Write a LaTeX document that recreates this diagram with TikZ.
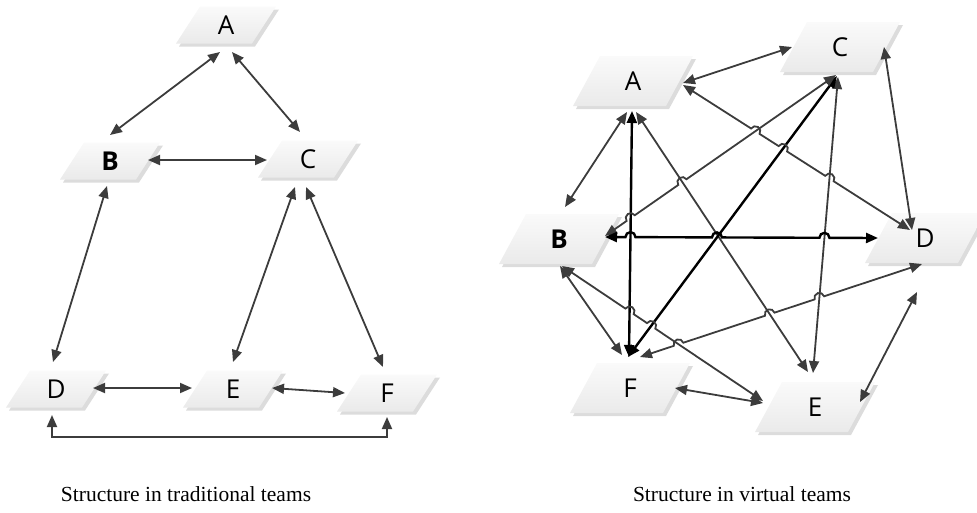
\documentclass[tikz,border=0pt]{standalone}
\usepackage{fontspec}
\setmainfont{Liberation Serif}
\newfontfamily\labelfont{Open Sans}
\usetikzlibrary{calc,intersections,backgrounds,arrows.meta}

\definecolor{linkgray}{HTML}{3C3C3C}
\definecolor{boxtop}{HTML}{FAFAFA}
\definecolor{boxbottom}{HTML}{EAEAEA}
\definecolor{boxshadow}{HTML}{DCDCDC}

% radius of the little bridges where a line jumps over another
\newcommand\hopr{5pt}
% one bridge: straight run up to the crossing #1, then a half circle
% (#2 is the start of the line; \n1 is its direction, set by let)
\newcommand\hop[2]{-- ($(#1)!\hopr!(#2)$) arc[start angle=\n1+180, delta angle=-180, radius=\hopr]}

% slanted panel behind a label node: node, width, height, slant
\newcommand\panel[4]{%
  \begin{scope}[on background layer, shift={(#1)}]
    \fill[boxshadow] ({-#2/2+3},{#3/2+3}) -- ({#2/2-#4+3},{#3/2+3})
      -- ({#2/2+3},{-#3/2+3}) -- ({-#2/2+#4+3},{-#3/2+3}) -- cycle;
    \shade[top color=boxtop, bottom color=boxbottom]
      ({-#2/2},{#3/2}) -- ({#2/2-#4},{#3/2})
      -- ({#2/2},{-#3/2}) -- ({-#2/2+#4},{-#3/2}) -- cycle;
  \end{scope}}

\tikzset{
  lbl/.style={font=\labelfont\fontsize{26}{26}\selectfont, inner sep=0pt},
  boldlbl/.style={lbl, font=\labelfont\bfseries\fontsize{26}{26}\selectfont},
  tip/.tip={Triangle[length=12pt,width=10pt]},
  link/.style={draw=linkgray, line width=1.8pt, tip-tip},
  strong/.style={draw=black, line width=2.4pt, tip-tip},
  caption/.style={font=\fontsize{21.5}{24}\selectfont, inner sep=0pt},
}

\begin{document}
\begin{tikzpicture}[x=1pt, y=-1pt]
\clip (0,0) rectangle (977,512);

% ---------------- hierarchy of a traditional team ----------------
\node[lbl]     (A) at (226,25)  {A};
\node[boldlbl] (B) at (110,161) {B};
\node[lbl]     (C) at (308,159) {C};
\node[lbl]     (D) at (56,389)  {D};
\node[lbl]     (E) at (233,389) {E};
\node[lbl]     (F) at (387,393) {F};
\foreach \n in {A,B,C,D,E,F} {\panel{\n}{100}{37}{24}}

\coordinate (A-b1) at ($(A)+(-6,27)$);
\coordinate (A-b2) at ($(A)+(6,27)$);
\coordinate (B-t)  at ($(B)+(0,-26)$);
\coordinate (B-r)  at ($(B)+(38,-1)$);
\coordinate (B-b)  at ($(B)+(-3,25)$);
\coordinate (C-t)  at ($(C)+(-8,-27)$);
\coordinate (C-l)  at ($(C)+(-41,1)$);
\coordinate (C-b1) at ($(C)+(-13,28)$);
\coordinate (C-b2) at ($(C)+(-2,28)$);
\coordinate (D-t)  at ($(D)+(-3,-27)$);
\coordinate (D-r)  at ($(D)+(37,-1)$);
\coordinate (D-b)  at ($(D)+(-4,26)$);
\coordinate (E-t)  at ($(E)+(0,-27)$);
\coordinate (E-l)  at ($(E)+(-41,-1)$);
\coordinate (E-r)  at ($(E)+(39,-1)$);
\coordinate (F-t)  at ($(F)+(-4,-26)$);
\coordinate (F-l)  at ($(F)+(-42,0)$);
\coordinate (F-b)  at ($(F)+(0,24)$);

\draw[link] (A-b1) -- (B-t);
\draw[link] (A-b2) -- (C-t);
\draw[link] (B-r) -- (C-l);
\draw[link] (B-b) -- (D-t);
\draw[link] (C-b1) -- (E-t);
\draw[link] (C-b2) -- (F-t);
\draw[link] (D-r) -- (E-l);
\draw[link] (E-r) -- (F-l);
\draw[link] (D-b) -- ++(0,22) -| (F-b);

\node[caption] (capL) at (186,494) {Structure in traditional teams};

% ---------------- fully connected virtual team ----------------
\node[lbl]     (rA) at (633,81)  {A};
\node[lbl]     (rC) at (840,47)  {C};
\node[boldlbl] (rB) at (559,239) {B};
\node[lbl]     (rD) at (925,238) {D};
\node[lbl]     (rF) at (630,388) {F};
\node[lbl]     (rE) at (815,407) {E};
\foreach \n in {rA,rB,rC,rD,rE,rF} {\panel{\n}{120}{50}{27}}

\coordinate (rA-r1) at ($(rA)+(50,2)$);
\coordinate (rA-r2) at ($(rA)+(50,4)$);
\coordinate (rA-b1) at ($(rA)+(-6,31)$);
\coordinate (rA-b2) at ($(rA)+(-1,30)$);
\coordinate (rA-b3) at ($(rA)+(3,31)$);
\coordinate (rC-l)  at ($(rC)+(-48,0)$);
\coordinate (rC-b1) at ($(rC)+(-4,28)$);
\coordinate (rC-b2) at ($(rC)+(-3,29)$);
\coordinate (rC-b3) at ($(rC)+(-2,30)$);
\coordinate (rC-r)  at ($(rC)+(44,0)$);
\coordinate (rB-t)  at ($(rB)+(6,-32)$);
\coordinate (rB-r1) at ($(rB)+(46,-3)$);
\coordinate (rB-r2) at ($(rB)+(46,-2)$);
\coordinate (rB-b1) at ($(rB)+(1,27)$);
\coordinate (rB-b2) at ($(rB)+(3,27)$);
\coordinate (rD-t1) at ($(rD)+(-15,-8)$);
\coordinate (rD-t2) at ($(rD)+(-13,-8)$);
\coordinate (rD-l)  at ($(rD)+(-47,0)$);
\coordinate (rD-b1) at ($(rD)+(-3,26)$);
\coordinate (rD-b2) at ($(rD)+(-8,54)$);
\coordinate (rF-t1) at ($(rF)+(-1,-31)$);
\coordinate (rF-t2) at ($(rF)+(-2,-31)$);
\coordinate (rF-t3) at ($(rF)+(-8,-33)$);
\coordinate (rF-t4) at ($(rF)+(10,-31)$);
\coordinate (rF-r)  at ($(rF)+(45,0)$);
\coordinate (rE-t1) at ($(rE)+(-7,-35)$);
\coordinate (rE-t2) at ($(rE)+(-2,-34)$);
\coordinate (rE-l1) at ($(rE)+(-52,-6)$);
\coordinate (rE-l2) at ($(rE)+(-52,-4)$);
\coordinate (rE-r)  at ($(rE)+(45,-5)$);

% links drawn straight
\draw[link] (rA-r1) -- (rC-l);
\draw[link] (rA-b1) -- (rB-t);
\draw[strong, name path=pAF] (rA-b2) -- (rF-t1);
\draw[link, name path=pAE] (rA-b3) -- (rE-t1);
\draw[link] (rC-r) -- (rD-t2);
\draw[link, name path=pCE] (rC-b3) -- (rE-t2);
\draw[strong, name path=pCF] (rC-b2) -- (rF-t2);
\draw[link] (rB-b1) -- (rF-t3);
\draw[link] (rD-b2) -- (rE-r);
\draw[link] (rF-r) -- (rE-l2);

% links that jump over the ones they cross
\path[name path=pBC] (rB-r1) -- (rC-b1);
\path[name path=pAD] (rA-r2) -- (rD-t1);
\path[name path=pBD] (rB-r2) -- (rD-l);
\path[name path=pBE] (rB-b2) -- (rE-l1);
\path[name path=pFD] (rF-t4) -- (rD-b1);

\path[name intersections={of=pBC and pAF, by=bc1}];
\path[name intersections={of=pBC and pAE, by=bc2}];
\draw[link] let \p1=(rB-r1), \p2=(rC-b1), \n1={atan2(\y2-\y1,\x2-\x1)} in
  (rB-r1) \hop{bc1}{rB-r1} \hop{bc2}{rB-r1} -- (rC-b1);

\path[name intersections={of=pAD and pBC, by=ad1}];
\path[name intersections={of=pAD and pCF, by=ad2}];
\path[name intersections={of=pAD and pCE, by=ad3}];
\draw[link] let \p1=(rA-r2), \p2=(rD-t1), \n1={atan2(\y2-\y1,\x2-\x1)} in
  (rA-r2) \hop{ad1}{rA-r2} \hop{ad2}{rA-r2} \hop{ad3}{rA-r2} -- (rD-t1);

\path[name intersections={of=pBD and pAF, by=bd1}];
\path[name intersections={of=pBD and pCF, by=bd2}];
\path[name intersections={of=pBD and pCE, by=bd3}];
\draw[strong] let \p1=(rB-r2), \p2=(rD-l), \n1={atan2(\y2-\y1,\x2-\x1)} in
  (rB-r2) \hop{bd1}{rB-r2} \hop{bd2}{rB-r2} \hop{bd3}{rB-r2} -- (rD-l);

\path[name intersections={of=pBE and pAF, by=be1}];
\path[name intersections={of=pBE and pCF, by=be2}];
\draw[link] let \p1=(rB-b2), \p2=(rE-l1), \n1={atan2(\y2-\y1,\x2-\x1)} in
  (rB-b2) \hop{be1}{rB-b2} \hop{be2}{rB-b2} -- (rE-l1);

\path[name intersections={of=pFD and pBE, by=fd1}];
\path[name intersections={of=pFD and pAE, by=fd2}];
\path[name intersections={of=pFD and pCE, by=fd3}];
\draw[link] let \p1=(rF-t4), \p2=(rD-b1), \n1={atan2(\y2-\y1,\x2-\x1)} in
  (rF-t4) \hop{fd1}{rF-t4} \hop{fd2}{rF-t4} \hop{fd3}{rF-t4} -- (rD-b1);

\node[caption] (capR) at (742,494) {Structure in virtual teams};
\end{tikzpicture}
\end{document}
